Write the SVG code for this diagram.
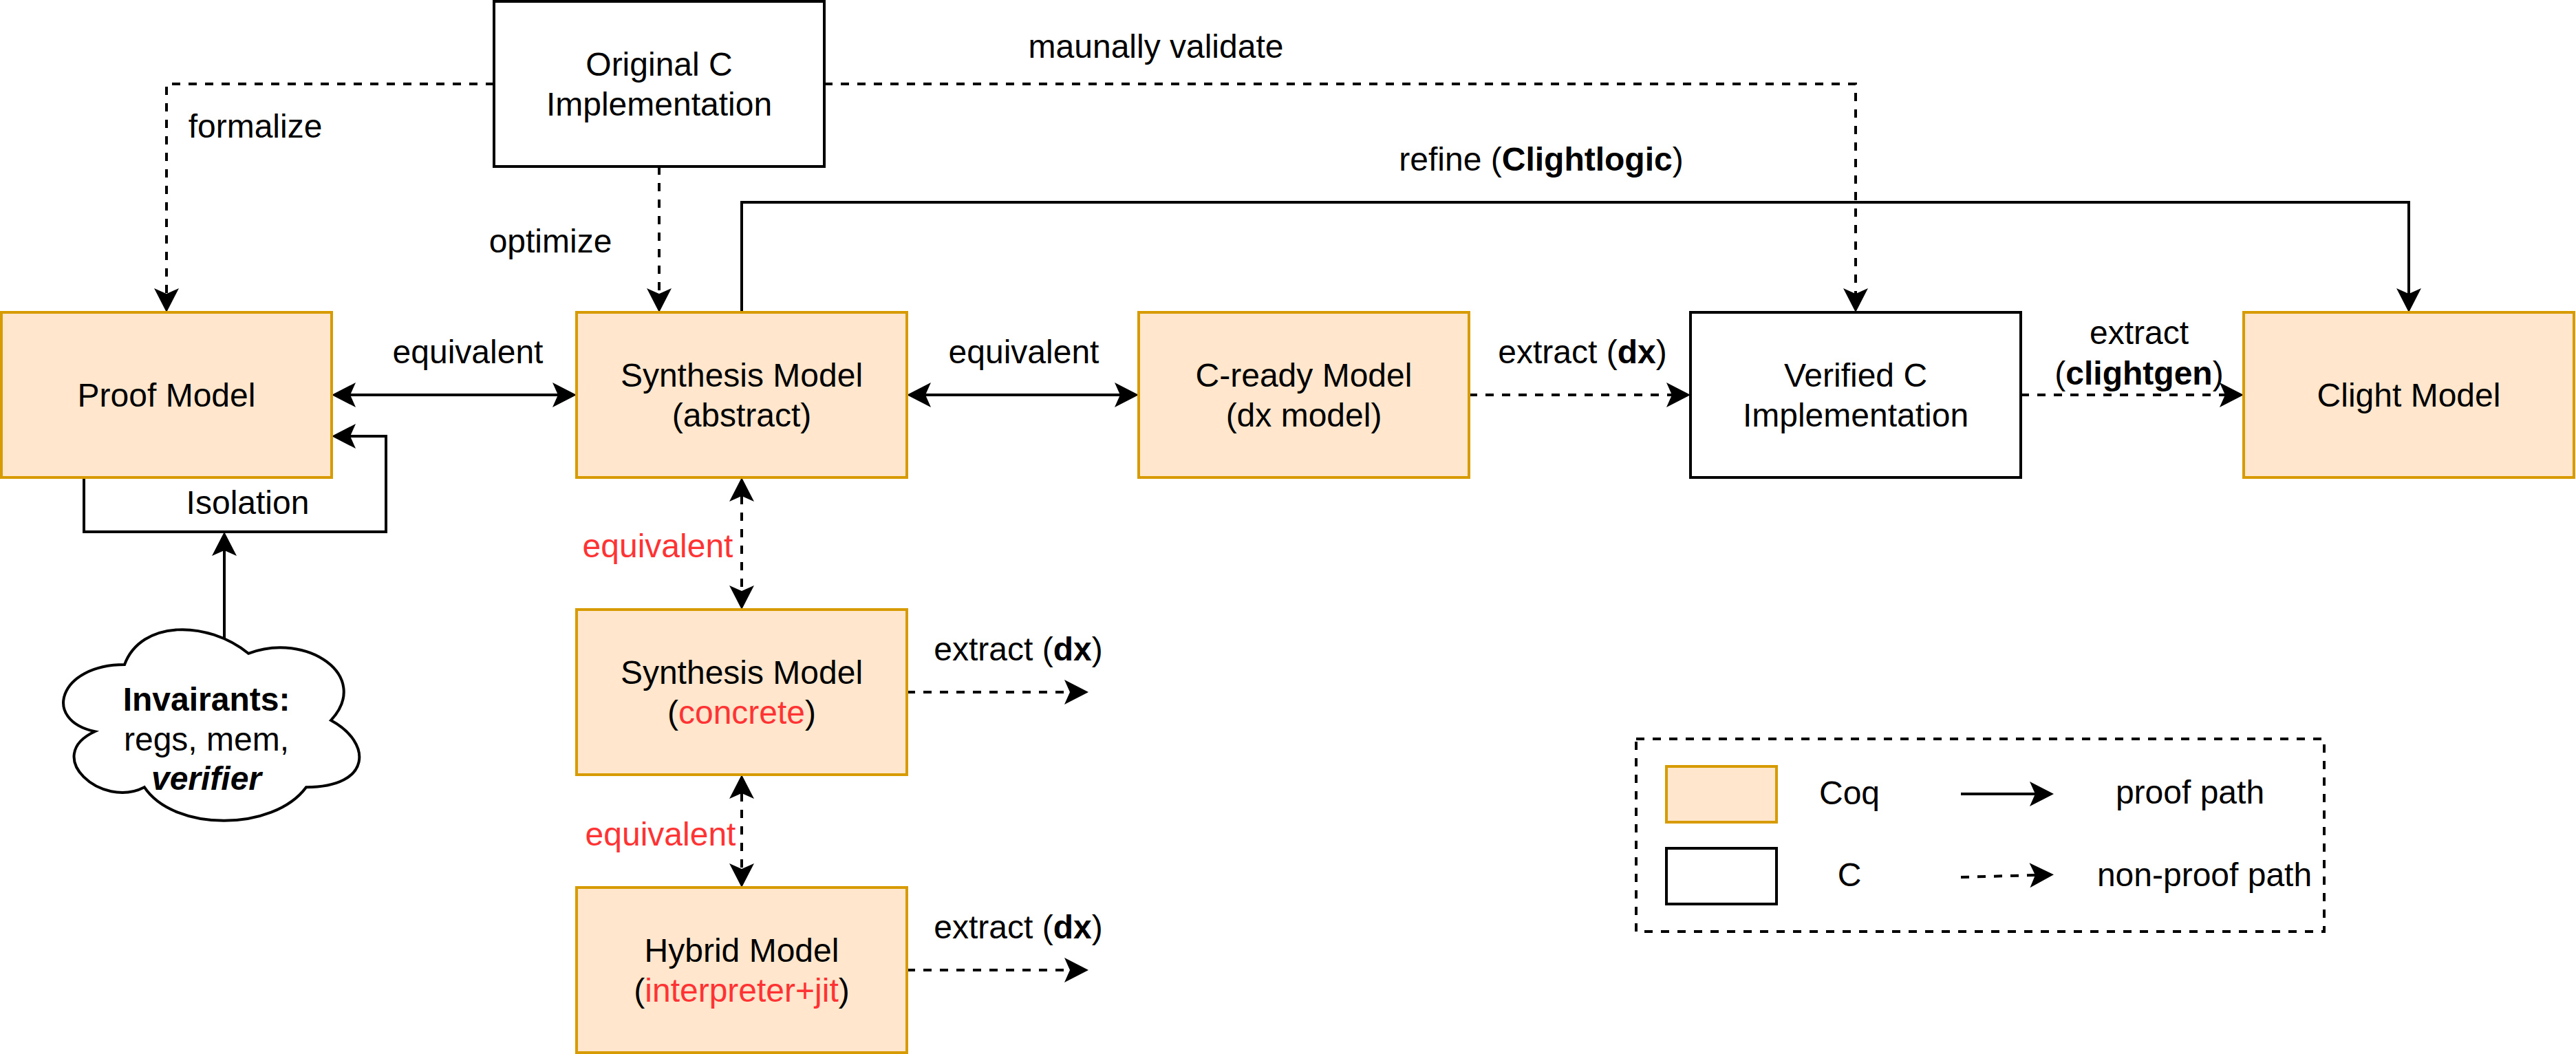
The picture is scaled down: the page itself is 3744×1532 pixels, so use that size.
<svg xmlns="http://www.w3.org/2000/svg" width="3744" height="1532" viewBox="0 0 3744 1532">
<style>
text{font-family:"Liberation Sans",Arial,Helvetica,sans-serif;font-size:48px;fill:#000;text-anchor:middle}
.b{font-weight:bold}
.bi{font-weight:bold;font-style:italic}
.red{fill:#FF3333}
.coq{fill:#ffe6cc;stroke:#d79b00;stroke-width:4}
.c{fill:#fff;stroke:#000;stroke-width:4}
.ln{fill:none;stroke:#000;stroke-width:4}
.dash{stroke-dasharray:12 12}
.e{marker-end:url(#arr)}
.s{marker-start:url(#arr)}
</style>
<defs>
<marker id="arr" viewBox="-10 -20 40 40" refX="0" refY="0" markerWidth="40" markerHeight="40" markerUnits="userSpaceOnUse" orient="auto-start-reverse" overflow="visible">
<path d="M27,0 L-8,-18 L0,0 L-8,18 Z" fill="#000" stroke="none"/>
</marker>
</defs>
<rect width="3744" height="1532" fill="#fff"/>
<g id="connectors">
<path class="ln dash e" d="M718,122 H242 V427"/>
<path class="ln dash e" d="M958,242 V427"/>
<path class="ln dash e" d="M1198,122 H2697 V427"/>
<path class="ln e" d="M1078,454 V294 H3501 V427"/>
<path class="ln s e" d="M509,574 H811"/>
<path class="ln s e" d="M1345,574 H1628"/>
<path class="ln dash e" d="M2135,574 H2430"/>
<path class="ln dash e" d="M2937,574 H3234"/>
<path class="ln e" d="M122,694 V773 H561 V634 H509"/>
<path class="ln e" d="M326,940 V800"/>
<path class="ln dash s e" d="M1078,721 V859"/>
<path class="ln dash s e" d="M1078,1153 V1263"/>
<path class="ln dash e" d="M1318,1006 H1555"/>
<path class="ln dash e" d="M1318,1410 H1555"/>
<text x="371" y="200">formalize</text>
<text x="800" y="367">optimize</text>
<text x="1680" y="84">maunally validate</text>
<text x="2240" y="248">refine (<tspan class="b">Clightlogic</tspan>)</text>
<text x="680" y="528">equivalent</text>
<text x="1488" y="528">equivalent</text>
<text x="2300" y="528">extract (<tspan class="b">dx</tspan>)</text>
<text x="3109" y="500">extract</text>
<text x="3109" y="559">(<tspan class="b">clightgen</tspan>)</text>
<text x="360" y="747">Isolation</text>
<text x="956" y="810" class="red">equivalent</text>
<text x="960" y="1229" class="red">equivalent</text>
<text x="1480" y="960">extract (<tspan class="b">dx</tspan>)</text>
<text x="1480" y="1364">extract (<tspan class="b">dx</tspan>)</text>
</g>
<g id="original-c">
<rect class="c" x="718" y="2" width="480" height="240"/>
<text x="958" y="110">Original C</text>
<text x="958" y="168">Implementation</text>
</g>
<g id="proof-model">
<rect class="coq" x="2" y="454" width="480" height="240"/>
<text x="242" y="591">Proof Model</text>
</g>
<g id="synthesis-abstract">
<rect class="coq" x="838" y="454" width="480" height="240"/>
<text x="1078" y="562">Synthesis Model</text>
<text x="1078" y="620">(abstract)</text>
</g>
<g id="c-ready">
<rect class="coq" x="1655" y="454" width="480" height="240"/>
<text x="1895" y="562">C-ready Model</text>
<text x="1895" y="620">(dx model)</text>
</g>
<g id="verified-c">
<rect class="c" x="2457" y="454" width="480" height="240"/>
<text x="2697" y="562">Verified C</text>
<text x="2697" y="620">Implementation</text>
</g>
<g id="clight-model">
<rect class="coq" x="3261" y="454" width="480" height="240"/>
<text x="3501" y="591">Clight Model</text>
</g>
<g id="synthesis-concrete">
<rect class="coq" x="838" y="886" width="480" height="240"/>
<text x="1078" y="994">Synthesis Model</text>
<text x="1078" y="1052">(<tspan class="red">concrete</tspan>)</text>
</g>
<g id="hybrid-model">
<rect class="coq" x="838" y="1290" width="480" height="240"/>
<text x="1078" y="1398">Hybrid Model</text>
<text x="1078" y="1456">(<tspan class="red">interpreter+jit</tspan>)</text>
</g>
<g id="invariants">
<path fill="#fff" stroke="#000" stroke-width="4" d="M181,966 C85,966 61,1047 137.8,1063.2 C61,1098.8 147.4,1176.6 209.8,1144.2 C253,1209 397,1209 445,1144.2 C541,1144.2 541,1079.4 481,1047 C541,982.2 445,917.4 361,949.8 C301,901.2 205,901.2 181,966 Z"/>
<text x="300" y="1033" class="b">Invairants:</text>
<text x="300" y="1091">regs, mem,</text>
<text x="300" y="1148" class="bi">verifier</text>
</g>
<g id="legend">
<rect x="2378" y="1074" width="1000" height="280" fill="none" stroke="#000" stroke-width="4" stroke-dasharray="12 12"/>
<rect class="coq" x="2422" y="1114" width="160" height="81"/>
<rect class="c" x="2422" y="1233" width="160" height="81"/>
<text x="2688" y="1169">Coq</text>
<text x="2688" y="1288">C</text>
<path class="ln e" d="M2850,1154 H2958"/>
<path class="ln dash e" d="M2850,1275 L2958,1272"/>
<text x="3183" y="1168">proof path</text>
<text x="3204" y="1288">non-proof path</text>
</g>
</svg>
